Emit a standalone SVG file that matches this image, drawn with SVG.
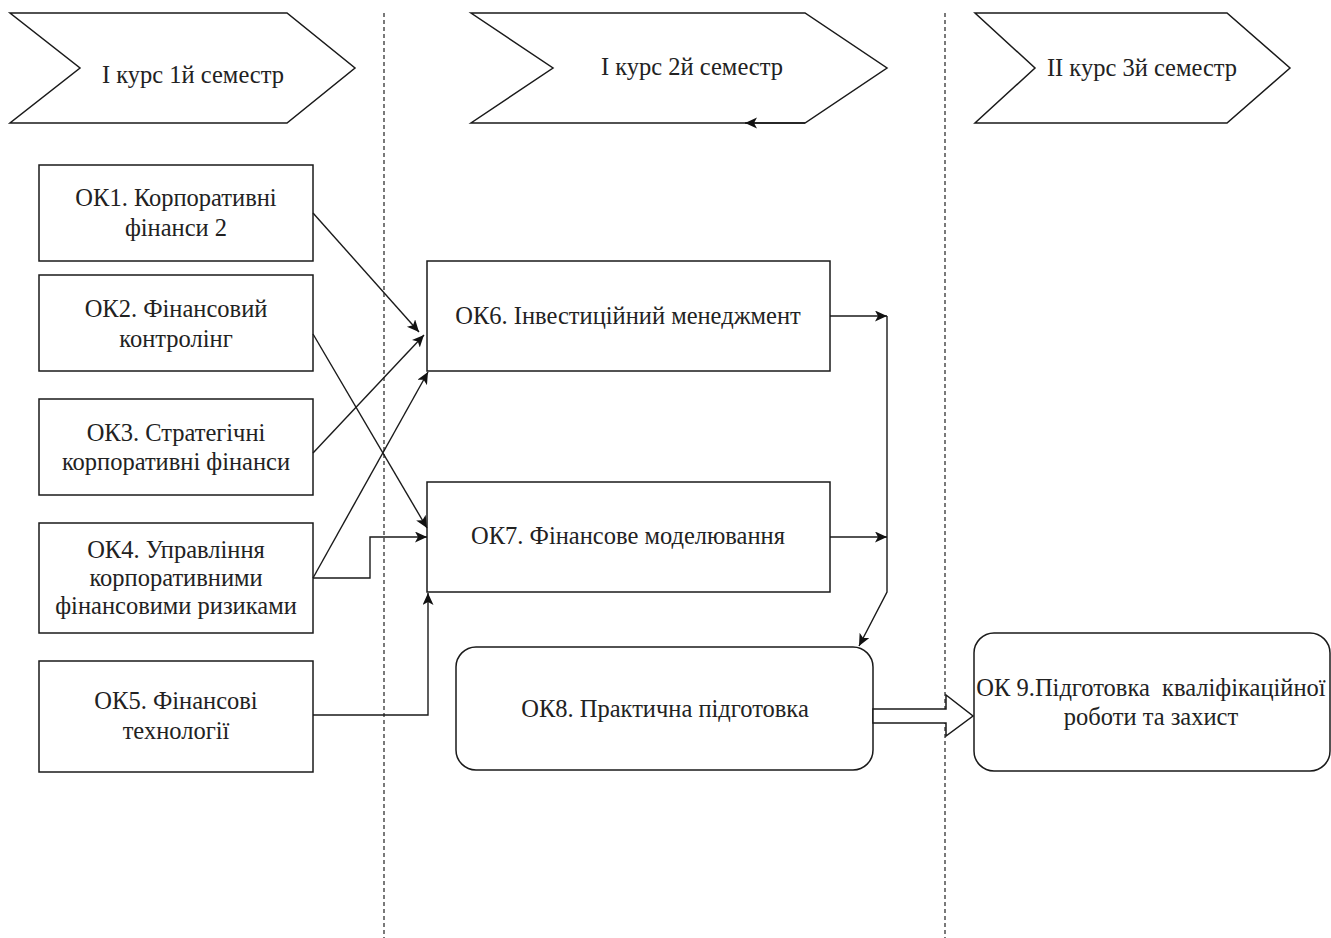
<svg xmlns="http://www.w3.org/2000/svg" width="1331" height="938" viewBox="0 0 1331 938">
<style>
.n{fill:#fff;stroke:#1a1a1a;stroke-width:1.5}
.t{font-family:"Liberation Serif","Times New Roman",serif;font-size:24.5px;fill:#222;text-anchor:middle}
.c{fill:none;stroke:#1a1a1a;stroke-width:1.4}
.d{fill:none;stroke:#333;stroke-width:1.3;stroke-dasharray:4,3}
</style>
<defs>
<marker id="a" markerUnits="userSpaceOnUse" markerWidth="14" markerHeight="12" refX="12" refY="5.5" orient="auto">
<path d="M0,0 L12,5.5 L0,11 L3,5.5 z" fill="#111"/>
</marker>
</defs>
<rect width="1331" height="938" fill="#fff"/>
<g id="dividers">
<line class="d" x1="384" y1="13" x2="384" y2="938"/>
<line class="d" x1="945" y1="13" x2="945" y2="938"/>
</g>
<g id="sem1">
<polygon class="n" points="10,13 287,13 355,68 287,123 10,123 80,68"/>
<text class="t" x="193" y="83">І курс 1й семестр</text>
</g>
<g id="sem2">
<polygon class="n" points="471,13 805,13 887,68 805,123 471,123 553,68"/>
<text class="t" x="692" y="75">І курс 2й семестр</text>
</g>
<g id="sem3">
<polygon class="n" points="975,13 1227,13 1290,68 1227,123 975,123 1035,68"/>
<text class="t" x="1142" y="76">ІІ курс 3й семестр</text>
</g>
<g id="ok1">
<rect class="n" x="39" y="165" width="274" height="96"/>
<text class="t" x="176" y="206">ОК1. Корпоративні</text>
<text class="t" x="176" y="236">фінанси 2</text>
</g>
<g id="ok2">
<rect class="n" x="39" y="275" width="274" height="96"/>
<text class="t" x="176" y="317">ОК2. Фінансовий</text>
<text class="t" x="176" y="347">контролінг</text>
</g>
<g id="ok3">
<rect class="n" x="39" y="399" width="274" height="96"/>
<text class="t" x="176" y="441">ОК3. Стратегічні</text>
<text class="t" x="176" y="470">корпоративні фінанси</text>
</g>
<g id="ok4">
<rect class="n" x="39" y="523" width="274" height="110"/>
<text class="t" x="176" y="558">ОК4. Управління</text>
<text class="t" x="176" y="586">корпоративними</text>
<text class="t" x="176" y="614">фінансовими ризиками</text>
</g>
<g id="ok5">
<rect class="n" x="39" y="661" width="274" height="111"/>
<text class="t" x="176" y="709">ОК5. Фінансові</text>
<text class="t" x="176" y="739">технології</text>
</g>
<g id="ok6">
<rect class="n" x="427" y="261" width="403" height="110"/>
<text class="t" x="628" y="324">ОК6. Інвестиційний менеджмент</text>
</g>
<g id="ok7">
<rect class="n" x="427" y="482" width="403" height="110"/>
<text class="t" x="628" y="544">ОК7. Фінансове моделювання</text>
</g>
<g id="ok8">
<rect class="n" x="456" y="647" width="417" height="123" rx="20" ry="20"/>
<text class="t" x="665" y="717">ОК8. Практична підготовка</text>
</g>
<g id="ok9">
<rect class="n" x="974" y="633" width="356" height="138" rx="20" ry="20"/>
<text class="t" x="1151" y="696" xml:space="preserve">ОК 9.Підготовка  кваліфікаційної</text>
<text class="t" x="1151" y="725">роботи та захист</text>
</g>
<g id="connectors">
<line class="c" x1="805" y1="123" x2="745" y2="123" marker-end="url(#a)"/>
<line class="c" x1="313" y1="213" x2="419" y2="332" marker-end="url(#a)"/>
<line class="c" x1="313" y1="334" x2="427" y2="528" marker-end="url(#a)"/>
<line class="c" x1="313" y1="453" x2="424" y2="335" marker-end="url(#a)"/>
<line class="c" x1="313" y1="578" x2="428" y2="372" marker-end="url(#a)"/>
<polyline class="c" points="313,578 370,578 370,537 427,537" marker-end="url(#a)"/>
<polyline class="c" points="313,715 428,715 428,593" marker-end="url(#a)"/>
<line class="c" x1="830" y1="316" x2="887" y2="316" marker-end="url(#a)"/>
<line class="c" x1="830" y1="537" x2="887" y2="537" marker-end="url(#a)"/>
<polyline class="c" points="887,316 887,592 859,646" marker-end="url(#a)"/>
<polygon class="n" points="873,709 946,709 946,695 973,716 946,736 946,723 873,723"/>
</g>
</svg>
